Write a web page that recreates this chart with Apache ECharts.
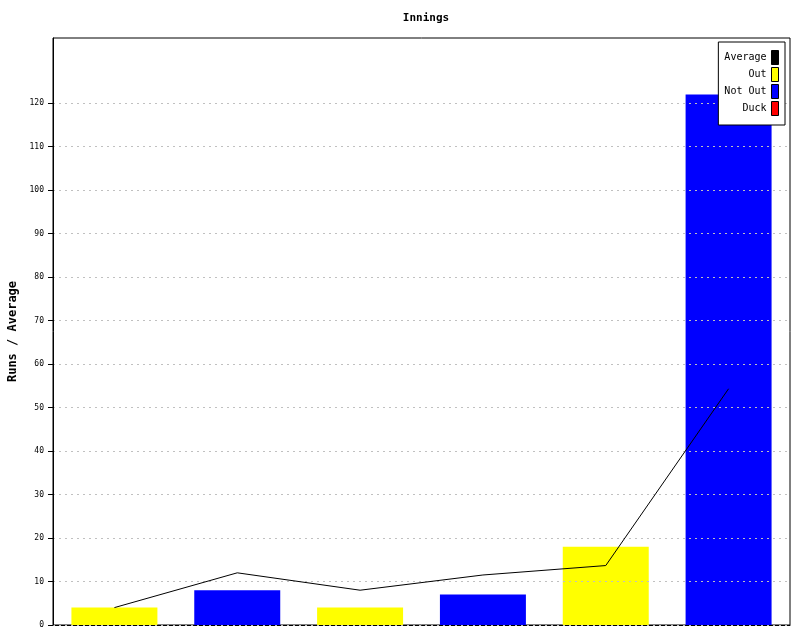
<!DOCTYPE html>
<html>
<head>
<meta charset="utf-8">
<script src="https://cdn.jsdelivr.net/npm/echarts@6/dist/echarts.min.js"></script>
<style>html,body{margin:0;padding:0;background:#fff}#c{width:800px;height:640px}</style>
</head>
<body>
<div id="c"></div>
<script>
const categories = ['1', '2', '3', '4', '5', '6'];
const outRuns = [4, null, 4, null, 18, null];
const notOutRuns = [null, 8, null, 7, null, 122];
const duckRuns = [null, null, null, null, null, null];
const average = [4, 12, 8, 11.5, 13.67, 54.33];
const yTicks = [0, 10, 20, 30, 40, 50, 60, 70, 80, 90, 100, 110, 120];

const mono = 'DejaVu Sans Mono';
const chart = echarts.init(document.getElementById('c'));
chart.setOption({
  animation: false,
  title: {
    text: 'Innings', left: 421, top: 8, textAlign: 'center',
    textStyle: { fontFamily: mono, fontSize: 11, fontWeight: 'bold', color: '#000' }
  },
  legend: {
    orient: 'vertical', right: 15, top: 42, align: 'right',
    backgroundColor: '#fff', borderColor: '#000', borderWidth: 1,
    padding: [8, 6, 9, 6], itemGap: 2, itemWidth: 7, itemHeight: 14,
    textStyle: { fontFamily: mono, fontSize: 10, color: '#000', lineHeight: 12 },
    data: [
      { name: 'Average', icon: 'rect', itemStyle: { color: '#000', borderColor: '#000', borderWidth: 1 } },
      { name: 'Out', icon: 'rect', itemStyle: { color: '#ffff00', borderColor: '#000', borderWidth: 1 } },
      { name: 'Not Out', icon: 'rect', itemStyle: { color: '#0000ff', borderColor: '#000', borderWidth: 1 } },
      { name: 'Duck', icon: 'rect', itemStyle: { color: '#ff0000', borderColor: '#000', borderWidth: 1 } }
    ]
  },
  grid: { left: 53, right: 10, top: 38, bottom: 15, show: true, borderColor: '#000', borderWidth: 1, containLabel: false, outerBoundsMode: 'none' },
  xAxis: {
    type: 'category', data: categories,
    axisLine: { lineStyle: { color: '#000', width: 1 } },
    axisTick: { show: false }, axisLabel: { show: false }, splitLine: { show: false }
  },
  yAxis: {
    type: 'value', min: 0, max: 135, interval: 10, z: 3,
    name: 'Runs / Average', nameLocation: 'middle', nameGap: 33, nameRotate: 90,
    nameTextStyle: { fontFamily: mono, fontSize: 12, fontWeight: 'bold', color: '#000' },
    axisLine: { show: true, lineStyle: { color: '#000', width: 1 } },
    axisTick: { show: true, length: 5, customValues: yTicks, lineStyle: { color: '#000' } },
    axisLabel: { customValues: yTicks, margin: 9, fontFamily: mono, fontSize: 8, color: '#000' },
    splitLine: { show: true, lineStyle: { color: '#c0c0c0', type: [2, 4], width: 1 } }
  },
  series: [
    { name: 'Average', type: 'line', data: average, symbol: 'none', z: 4,
      lineStyle: { color: '#000', width: 1 }, itemStyle: { color: '#000' } },
    { name: 'Out', type: 'bar', stack: 'r', data: outRuns, barWidth: '70%', itemStyle: { color: '#ffff00' } },
    { name: 'Not Out', type: 'bar', stack: 'r', data: notOutRuns, barWidth: '70%', itemStyle: { color: '#0000ff' } },
    { name: 'Duck', type: 'bar', stack: 'r', data: duckRuns, barWidth: '70%', itemStyle: { color: '#ff0000' } }
  ]
});
</script>
</body>
</html>
